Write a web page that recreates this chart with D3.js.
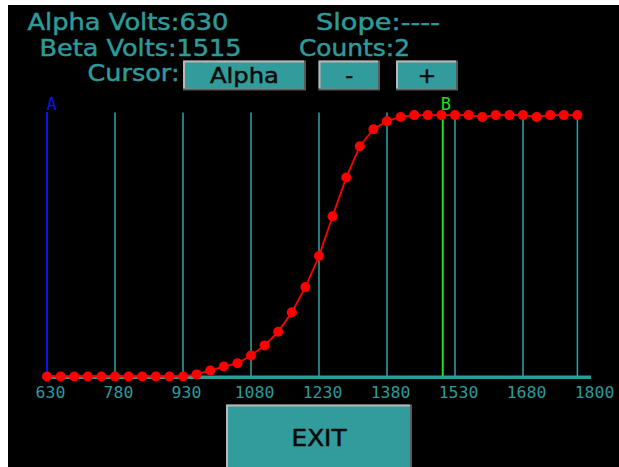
<!DOCTYPE html>
<html>
<head>
<meta charset="utf-8">
<script src="https://cdn.jsdelivr.net/npm/d3@7"></script>
<style>
  html, body { margin: 0; padding: 0; background: #ffffff; }
  svg { display: block; }
</style>
</head>
<body>
<svg id="chart" width="619" height="467"></svg>
<script>
// ---- data ----
const volts = [630,660,690,720,750,780,810,840,870,900,930,960,990,1020,1050,1080,1110,1140,1170,1200,
               1230,1260,1290,1320,1350,1380,1410,1440,1470,1500,1530,1560,1590,1620,1650,1680,1710,1740,1770,1800];
const counts = [0,0,0,0,0,0,0,0,0,0,0,0.8,2.3,3.8,5.1,8.0,11.9,17.1,24.6,34.2,
                46.1,61.3,76.1,88.1,94.6,97.7,99.3,100,100,100,100,100,99.3,100,100,100,99.3,100,100,100];
const gridVolts = [780,930,1080,1230,1380,1530,1680,1800];
const tickValues = [630,780,930,1080,1230,1380,1530,1680,1830];
const tickLabels = ["630","780","930","1080","1230","1380","1530","1680","1800"];
const cursorA = 630;
const cursorB = 1503;
const headerLines = [
  {text: "Alpha Volts:630", x: 27.5, y: 30, w: 201},
  {text: "Slope:----", x: 316, y: 30, w: 124},
  {text: "Beta Volts:1515", x: 39.5, y: 55.5, w: 202},
  {text: "Counts:2", x: 299, y: 55.5, w: 111},
  {text: "Cursor:", x: 87.5, y: 81, w: 92}
];
const buttons = [
  {label: "Alpha", x: 183, y: 60.5, w: 123, h: 30, tw: 69},
  {label: "-", x: 318.5, y: 60.5, w: 61.5, h: 30, tw: 0},
  {label: "+", x: 396, y: 60.5, w: 62, h: 30, tw: 0}
];

const TEAL = "#2f9a9a";
const svg = d3.select("#chart");

svg.append("rect").attr("x", 0).attr("y", 0).attr("width", 619).attr("height", 467).attr("fill", "#ffffff");
svg.append("rect").attr("x", 8).attr("y", 5).attr("width", 611).attr("height", 462).attr("fill", "#000000");

// ---- scales ----
const x = d3.scaleLinear().domain([630, 1800]).range([47, 577.4]);
const y = d3.scaleLinear().domain([0, 101]).range([376.5, 112.5]);

// ---- header text ----
svg.selectAll("text.hdr").data(headerLines).enter().append("text")
  .attr("class", "hdr")
  .attr("x", d => d.x).attr("y", d => d.y)
  .attr("textLength", d => d.w).attr("lengthAdjust", "spacingAndGlyphs")
  .attr("font-family", "DejaVu Sans, sans-serif").attr("font-size", 23)
  .attr("fill", TEAL).attr("stroke", TEAL).attr("stroke-width", 0.5)
  .text(d => d.text);

// ---- buttons ----
function drawButton(g, b, fontSize, weight) {
  g.append("rect").attr("x", b.x).attr("y", b.y).attr("width", b.w).attr("height", b.h).attr("fill", "#5a5a5a");
  g.append("rect").attr("x", b.x).attr("y", b.y).attr("width", b.w - 2).attr("height", b.h - 2).attr("fill", "#b8b8b8");
  g.append("rect").attr("x", b.x + 2).attr("y", b.y + 2).attr("width", b.w - 4).attr("height", b.h - 4).attr("fill", "#329b9b");
  const t = g.append("text").attr("x", b.x + b.w / 2).attr("y", b.y + b.h / 2 + fontSize * 0.36)
    .attr("text-anchor", "middle")
    .attr("font-family", "DejaVu Sans, sans-serif").attr("font-size", fontSize)
    .attr("font-weight", weight)
    .attr("fill", "#0a0a0a").attr("stroke", "#0a0a0a").attr("stroke-width", 0.5).text(b.label);
  if (b.tw) t.attr("textLength", b.tw).attr("lengthAdjust", "spacingAndGlyphs");
}
buttons.forEach(b => drawButton(svg.append("g"), b, 22, "normal"));
drawButton(svg.append("g"), {label: "EXIT", x: 226, y: 404.5, w: 186, h: 66, tw: 55}, 23, "normal");

// ---- grid lines ----
svg.selectAll("line.grid").data(gridVolts).enter().append("line")
  .attr("x1", d => x(d)).attr("x2", d => x(d))
  .attr("y1", y(101)).attr("y2", y(0))
  .attr("stroke", TEAL).attr("stroke-width", 1.6);

// ---- axis ----
const axis = d3.axisBottom(x).tickValues(tickValues).tickSize(0)
  .tickFormat((d, i) => tickLabels[i]);
const ax = svg.append("g").attr("transform", `translate(0, ${y(0) + 0.8})`).call(axis);
ax.select(".domain").attr("stroke", TEAL).attr("stroke-width", 3.5)
  .attr("d", `M${x(630)},0H${x(1830)}`);
ax.selectAll(".tick text")
  .attr("fill", TEAL)
  .attr("font-family", "DejaVu Sans Mono, monospace")
  .attr("font-size", 16.5)
  .attr("dx", 3)
  .attr("dy", 0)
  .attr("y", 20.5);

// ---- cursors ----
svg.append("line").attr("x1", x(cursorA)).attr("x2", x(cursorA)).attr("y1", y(101) - 0.5).attr("y2", y(0))
  .attr("stroke", "#1010ee").attr("stroke-width", 2);
svg.append("text").attr("x", x(cursorA) - 0.5).attr("y", 110)
  .attr("font-family", "DejaVu Sans Mono, monospace").attr("font-size", 17)
  .attr("fill", "#1010ee").text("A");
svg.append("line").attr("x1", x(cursorB)).attr("x2", x(cursorB)).attr("y1", y(101) - 0.5).attr("y2", y(0))
  .attr("stroke", "#22dd22").attr("stroke-width", 2);
svg.append("text").attr("x", x(cursorB) - 2).attr("y", 110)
  .attr("font-family", "DejaVu Sans Mono, monospace").attr("font-size", 17)
  .attr("fill", "#22dd22").text("B");

// ---- data line & points ----
const pts = volts.map((v, i) => [v, counts[i]]);
svg.append("path").datum(pts)
  .attr("d", d3.line().x(d => x(d[0])).y(d => y(d[1])))
  .attr("fill", "none").attr("stroke", "#ff0000").attr("stroke-width", 1.8);
svg.selectAll("circle.pt").data(pts).enter().append("circle")
  .attr("cx", d => x(d[0])).attr("cy", d => y(d[1])).attr("r", 5)
  .attr("fill", "#ff0000");
</script>
</body>
</html>
